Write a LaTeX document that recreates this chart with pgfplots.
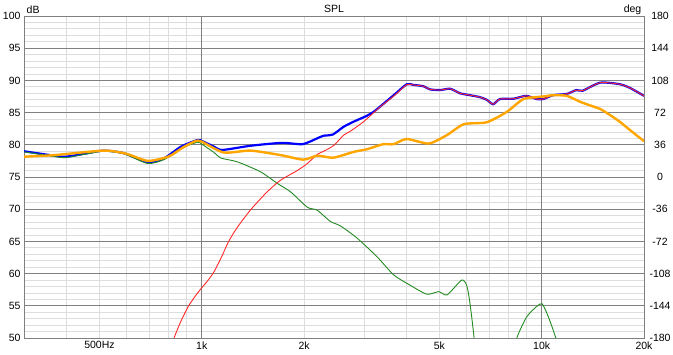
\documentclass[border=0pt]{standalone}
\usepackage{fontspec}
\setmainfont{Liberation Sans}
\usepackage{pgfplots}
\pgfplotsset{compat=1.18}
\definecolor{majgrid}{RGB}{128,128,128}
\definecolor{mingrid}{RGB}{221,221,221}
\definecolor{cblue}{RGB}{0,0,255}
\definecolor{cred}{RGB}{255,40,40}
\definecolor{cgreen}{RGB}{34,139,34}
\definecolor{corange}{RGB}{255,165,0}
\newcommand{\lblfont}{\fontsize{10.5}{12}\selectfont}
\begin{document}
\begin{tikzpicture}
\useasboundingbox (-24pt,-17pt) rectangle (649pt,338pt);
\begin{axis}[name=main, at={(0pt,0pt)}, anchor=south west, scale only axis,
  width=620pt, height=322pt,
  xmode=log, xmin=300, xmax=20000, ymin=50, ymax=100,
  xtick={500,1000,2000,5000,10000,20000},
  xticklabels={500Hz,1k,2k,5k,10k,20k},
  xmajorgrids=false,
  minor xtick={400,500,600,700,800,900,2000,3000,4000,5000,6000,7000,8000,9000},
  xminorgrids=true,
  extra x ticks={1000,10000}, extra x tick labels={,},
  extra x tick style={xmajorgrids=true},
  ytick={50,55,...,100},
  minor ytick={51,52,...,99},
  ymajorgrids=true, yminorgrids=true,
  major grid style={majgrid, line width=0.8pt},
  minor grid style={mingrid, line width=0.8pt},
  axis line style={majgrid, line width=0.8pt},
  major tick length=0pt, minor tick length=0pt,
  tick style={draw=none},
  ticklabel style={font=\lblfont, text=black},
  /pgf/number format/assume math mode=true,
  clip=true,
]
% total (blue)
\addplot[cblue, line width=2.2pt, smooth, tension=0.4] coordinates {
(300,79.0) (337,78.6) (394,78.15) (450,78.6) (515,79.1) (590,78.7) (693,77.3)
(775,77.9) (868,79.7) (971,80.75) (1000,80.6) (1087,79.7) (1150,79.2) (1392,79.85)
(1720,80.3) (1980,80.1) (2185,81.0) (2280,81.4) (2430,81.6) (2615,82.8) (2800,83.6)
(3030,84.4) (3200,85.1) (3430,86.4) (3670,87.7) (4010,89.4) (4190,89.3) (4480,89.1)
(4700,88.6) (5030,88.5) (5380,88.7) (5750,88.0) (6150,87.7) (6580,87.4) (6890,87.0)
(7200,86.3) (7530,87.1) (8250,87.15) (9000,87.6) (9670,87.1) (10100,87.1) (10800,87.7)
(11850,87.9) (12650,88.5) (13200,88.4) (14870,89.65) (17000,89.4) (18230,88.8) (20000,87.6)
};
% woofer (green)
\addplot[cgreen, line width=0.9pt, smooth, tension=0.4] coordinates {
(300,78.9) (337,78.5) (394,78.0) (450,78.5) (515,79.0) (590,78.6) (693,77.1)
(775,77.7) (868,79.4) (971,80.4) (1000,80.1) (1087,78.8) (1137,77.95) (1273,77.35)
(1490,75.8) (1669,74.0) (1825,72.7) (2045,70.3) (2185,69.85) (2390,68.1) (2560,67.4)
(2865,65.5) (3280,62.6) (3670,59.8) (4100,58.2) (4595,56.8) (4980,57.2) (5270,56.7)
(5820,59.0) (6030,58.0) (6170,54.9) (6320,50.2) (6420,46)
};
\addplot[cgreen, line width=0.9pt, smooth, tension=0.4] coordinates {
(8150,46) (8450,50) (9040,53.3) (9670,54.9) (10030,55.3) (10460,53.3) (11000,50) (11300,47)
};
% tweeter (red)
\addplot[cred, line width=0.9pt, smooth, tension=0.4] coordinates {
(800,47.2) (829,50) (870,52.7) (915,55.0) (960,56.6) (1000,57.8) (1045,59.0) (1087,60.3)
(1137,62.3) (1200,65.0)
(1273,67.2) (1392,69.9) (1558,72.7) (1705,74.5) (1910,76.0) (2045,77.1) (2185,78.5)
(2285,79.0) (2445,79.9) (2615,81.5) (2735,82.1) (2995,83.6) (3350,85.9) (3660,87.5)
(4010,89.35) (4190,89.3) (4480,89.1)
(4700,88.6) (5030,88.5) (5380,88.7) (5750,88.0) (6150,87.7) (6580,87.4) (6890,87.0)
(7200,86.3) (7530,87.1) (8250,87.15) (9000,87.6) (9670,87.1) (10100,87.1) (10800,87.7)
(11850,87.9) (12650,88.5) (13200,88.4) (14870,89.65) (17000,89.4) (18230,88.8) (20000,87.6)
};
\end{axis}
\begin{axis}[at={(0pt,0pt)}, anchor=south west, scale only axis,
  width=620pt, height=322pt,
  xmode=log, xmin=300, xmax=20000, ymin=-180, ymax=180,
  axis x line=none, axis y line*=right,
  ytick={-180,-144,...,180},
  axis line style={majgrid, line width=0.8pt},
  major tick length=0pt, tick style={draw=none},
  yticklabel style={anchor=center, xshift=16pt, font=\lblfont, text=black},
  /pgf/number format/assume math mode=true,
  clip=true,
]
% phase (orange)
\addplot[corange, line width=2.4pt, smooth, tension=0.4] coordinates {
(300,22.7) (370,24.5) (515,29.5) (600,26) (694,18) (800,23) (880,33) (960,40.3) (1000,39.5)
(1160,27.4) (1392,29.5) (1705,24.5) (1990,19.4) (2185,23.8) (2440,21.6) (2800,28.1)
(3060,31) (3420,36.7) (3670,36.7) (4010,42.5) (4650,37.4) (5260,46.8) (5900,59)
(6890,61.2) (7890,72.7) (8840,87.1) (10100,90) (10810,91.4) (11850,90.7) (12950,84.2)
(14000,79.5) (14870,76.0) (16000,68.5) (17000,61.5) (18600,49.5) (19900,40.7) (20000,39.8)
};
\end{axis}
\node[anchor=base, inner sep=0pt, font=\lblfont] at ([yshift=3.5pt]main.north) {SPL};
\node[anchor=base west, inner sep=0pt, font=\lblfont] at ([xshift=2.5pt,yshift=2.8pt]main.north west) {dB};
\node[anchor=base east, inner sep=0pt, font=\lblfont] at ([xshift=-2.5pt,yshift=3.6pt]main.north east) {deg};
\end{tikzpicture}
\end{document}
